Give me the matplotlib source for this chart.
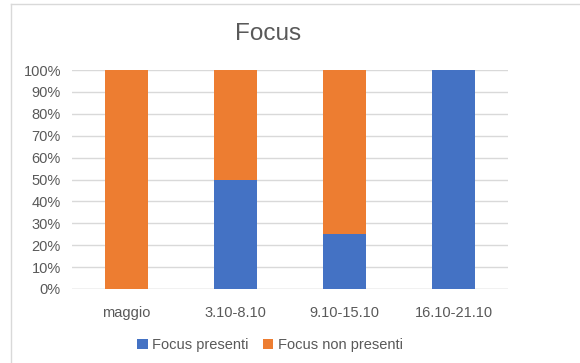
import numpy as np
import matplotlib.pyplot as plt
from matplotlib.lines import Line2D
from matplotlib.ticker import PercentFormatter

categories = ["maggio", "3.10-8.10", "9.10-15.10", "16.10-21.10"]
presenti = [0, 50, 25, 100]
non_presenti = [100, 50, 75, 0]

blue = "#4472C4"
orange = "#ED7D31"
grey = "#595959"

plt.rcParams['font.family'] = ['Liberation Sans', 'DejaVu Sans']

fig = plt.figure(figsize=(5.8, 3.63), dpi=100)
ax = fig.add_axes([72/580, 74/363, 436/580, 219/363])

x = np.arange(len(categories))
ax.bar(x, presenti, width=0.4, color=blue, label="Focus presenti", zorder=3)
ax.bar(x, non_presenti, width=0.4, bottom=presenti, color=orange,
       label="Focus non presenti", zorder=3)

ax.set_xlim(-0.5, len(categories) - 0.5)
ax.set_ylim(0, 100)
ax.set_yticks(np.arange(0, 101, 10))
ax.yaxis.set_major_formatter(PercentFormatter(decimals=0))
ax.set_xticks(x)
ax.set_xticklabels(categories)
ax.tick_params(axis='both', length=0, colors=grey, labelsize=10.5)
ax.tick_params(axis='y', pad=8)
ax.tick_params(axis='x', pad=12)
ax.grid(axis='y', color="#D9D9D9", linewidth=1, zorder=0)
for s in ax.spines.values():
    s.set_visible(False)
ax.axhline(0, color="#D9D9D9", linewidth=1, zorder=1)

fig.text(268/580, 1 - 34/363, "Focus", ha='center', va='center', fontsize=17.5, color=grey)

fig.legend(loc='center', bbox_to_anchor=(270/580, 1 - 345/363), ncol=2, frameon=False,
           fontsize=10.5, labelcolor=grey, handlelength=0.7, handleheight=0.7,
           handletextpad=0.3, columnspacing=1.0)

# chart border (only top and left edges visible in the crop)
fig.add_artist(Line2D([11/580, 1], [1 - 4/363, 1 - 4/363], transform=fig.transFigure,
                      color="#D9D9D9", linewidth=1))
fig.add_artist(Line2D([11/580, 11/580], [0, 1 - 4/363], transform=fig.transFigure,
                      color="#D9D9D9", linewidth=1))

fig.savefig("out.png", dpi=100)
